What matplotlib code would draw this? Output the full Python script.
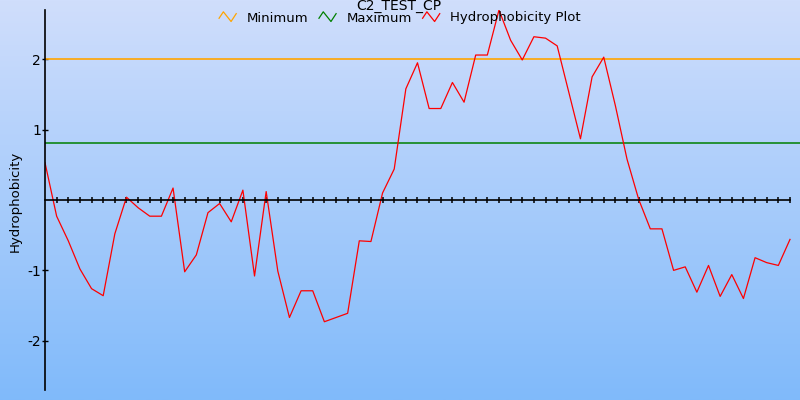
import numpy as np
import matplotlib
matplotlib.use("Agg")
import matplotlib.pyplot as plt
from matplotlib.lines import Line2D
from matplotlib.legend_handler import HandlerBase

# hydrophobicity values, one per position
hydro = [0.53, -0.23, -0.58, -0.98, -1.26, -1.36, -0.48, 0.04, -0.11, -0.23,
         -0.23, 0.17, -1.02, -0.78, -0.18, -0.05, -0.31, 0.14, -1.08, 0.12,
         -1.01, -1.67, -1.29, -1.29, -1.73, -1.67, -1.61, -0.58, -0.59, 0.10,
         0.44, 1.58, 1.95, 1.30, 1.30, 1.67, 1.39, 2.06, 2.06, 2.70,
         2.27, 1.99, 2.32, 2.30, 2.19, 1.53, 0.87, 1.75, 2.03, 1.34,
         0.58, 0.01, -0.41, -0.41, -1.00, -0.95, -1.31, -0.93, -1.37, -1.06,
         -1.40, -0.82, -0.89, -0.93, -0.56]
min_level = 2.0
max_level = 0.81
yticks = [-2, -1, 1, 2]
title = "C2_TEST_CP"
series_names = ["Minimum", "Maximum", "Hydrophobicity Plot"]
series_colors = ["#ffa500", "#008000", "#ff0000"]

plt.rcParams["axes.unicode_minus"] = False
plt.rcParams["font.family"] = ["DejaVu Sans"]


class Zigzag(HandlerBase):
    def create_artists(self, legend, orig, xd, yd, w, h, fs, trans):
        xs = np.array([0.0, 0.25, 0.7, 1.0]) * w - xd
        ys = np.array([0.35, 1.05, 0.0, 0.85]) * h - yd
        ln = Line2D(xs, ys, color=orig.get_color(), lw=0.9)
        ln.set_transform(trans)
        return [ln]


fig = plt.figure(figsize=(8, 4), dpi=100)

# gradient background
bg = fig.add_axes([0, 0, 1, 1], zorder=-1)
grad = np.linspace(0, 1, 256).reshape(-1, 1)
top = np.array([208, 222, 252]) / 255
bot = np.array([128, 186, 250]) / 255
img = top + (bot - top) * grad[:, :, None]
bg.imshow(img, aspect="auto", extent=[0, 1, 0, 1])
bg.axis("off")

ax = fig.add_axes([45 / 800, 10 / 400, 755 / 800, 380 / 400])
ax.patch.set_alpha(0)
x = np.arange(len(hydro))

h_min = ax.axhline(min_level, color=series_colors[0], lw=1.2)
h_max = ax.axhline(max_level, color=series_colors[1], lw=1.1)
h_hyd, = ax.plot(x, hydro, color=series_colors[2], lw=0.9)

ax.set_xlim(0, 64.86)
ax.set_ylim(-2.7, 2.7)
ax.spines["top"].set_visible(False)
ax.spines["right"].set_visible(False)
ax.spines["bottom"].set_position(("data", 0))
ax.spines["bottom"].set_bounds(0, len(hydro) - 1)
ax.spines["left"].set_position(("data", 0))
for s in ("bottom", "left"):
    ax.spines[s].set_linewidth(1.2)

ax.set_xticks(x[1:])
ax.set_xticklabels([])
ax.tick_params(axis="x", direction="inout", length=4.5, width=1.1)
ax.set_yticks(yticks)
ax.set_yticklabels([str(t) for t in yticks], fontsize=10)
ax.tick_params(axis="y", direction="inout", length=4.5, width=1, pad=0.5)

fig.text(15 / 800, 1 - 201 / 400, "Hydrophobicity", rotation=90,
         ha="center", va="center", fontsize=9.5)
fig.text(399 / 800, 1 - 10 / 400, title, ha="center", va="baseline", fontsize=10)

fig.legend([h_min, h_max, h_hyd], series_names, ncol=3, frameon=False,
           loc="center", bbox_to_anchor=(400 / 800, 1 - 18 / 400),
           fontsize=9.5, handlelength=1.3, handletextpad=0.8,
           columnspacing=0.8, handler_map={Line2D: Zigzag()},
           borderpad=0, borderaxespad=0)

fig.savefig("out.png", dpi=100)
